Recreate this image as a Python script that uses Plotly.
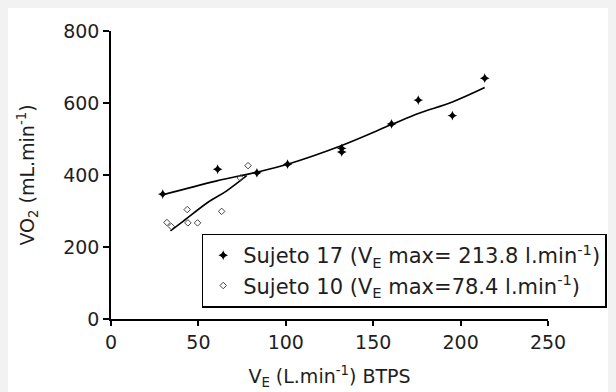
import plotly.graph_objects as go

# Sujeto 17 (filled markers)
s17_x = [29.6, 61.0, 83.5, 101.0, 132.0, 132.0, 160.5, 175.8, 195.3, 213.8]
s17_y = [347, 416, 406, 430, 474, 464, 542, 608, 565, 669]
# Fitted curve for Sujeto 17
s17_fit_x = [29.6, 60.0, 83.5, 101.0, 132.0, 160.5, 175.8, 195.3, 213.8]
s17_fit_y = [345, 383, 408, 430, 482, 540, 571, 603, 643]

# Sujeto 10 (open markers)
s10_x = [32.0, 34.5, 43.6, 44.0, 49.5, 63.3, 74.0, 78.4]
s10_y = [268, 257, 304, 267, 267, 299, 392, 426]
# Fitted curve for Sujeto 10
s10_fit_x = [34.0, 41.4, 55.7, 66.2, 77.6]
s10_fit_y = [245, 272, 325, 356, 398]

x_ticks = [0, 50, 100, 150, 200, 250]
y_ticks = [0, 200, 400, 600, 800]

FONT = "DejaVu Sans"
TXT = "#1e1e1e"
FS = 19

fig = go.Figure()

fig.add_trace(go.Scatter(x=s17_fit_x, y=s17_fit_y, mode="lines",
                         line=dict(color="black", width=1.6, shape="spline"),
                         showlegend=False, hoverinfo="skip"))
fig.add_trace(go.Scatter(x=s10_fit_x, y=s10_fit_y, mode="lines",
                         line=dict(color="black", width=1.6, shape="spline"),
                         showlegend=False, hoverinfo="skip"))
fig.add_trace(go.Scatter(x=s17_x, y=s17_y, mode="markers",
                         name="Sujeto 17 (V<sub>E</sub> max= 213.8 l.min<sup>-1</sup>)",
                         marker=dict(symbol="star-diamond", size=7, color="black",
                                     line=dict(width=0))))
fig.add_trace(go.Scatter(x=s10_x, y=s10_y, mode="markers",
                         name="Sujeto 10 (V<sub>E</sub> max=78.4 l.min<sup>-1</sup>)",
                         marker=dict(symbol="diamond-open", size=5, color="#444444",
                                     line=dict(width=1))))

# The page body keeps its default 8px margin; figure is white, page is light gray.
fig.update_layout(
    width=616, height=392,
    margin=dict(l=103, r=76, t=20, b=81),
    paper_bgcolor="white",
    plot_bgcolor="white",
    font=dict(family=FONT, size=FS, color=TXT),
    legend=dict(x=0.2076, y=0.2966, xanchor="left", yanchor="top",
                bgcolor="white", bordercolor="black", borderwidth=1.5,
                font=dict(family=FONT, size=21, color=TXT),
                tracegroupgap=0, itemwidth=30),
    xaxis=dict(range=[0, 250], tickvals=x_ticks, showgrid=False, zeroline=False,
               showline=True, linecolor="black", linewidth=1.5,
               ticks="outside", ticklen=5, tickwidth=1.5, tickcolor="black",
               tickfont=dict(family=FONT, size=FS, color=TXT),
               title=dict(text="V<sub>E</sub> (L.min<sup>-1</sup>) BTPS",
                          font=dict(family=FONT, size=FS, color=TXT), standoff=18)),
    yaxis=dict(range=[0, 800], tickvals=y_ticks, showgrid=False, zeroline=False,
               showline=True, linecolor="black", linewidth=1.5,
               ticks="outside", ticklen=6, tickwidth=1.5, tickcolor="black",
               tickfont=dict(family=FONT, size=FS, color=TXT),
               title=dict(text="VO<sub>2</sub> (mL.min<sup>-1</sup>)",
                          font=dict(family=FONT, size=FS, color=TXT), standoff=24)),
)

fig.write_html("out.html",
               post_script="document.body.style.background='#f2f2f2';")
